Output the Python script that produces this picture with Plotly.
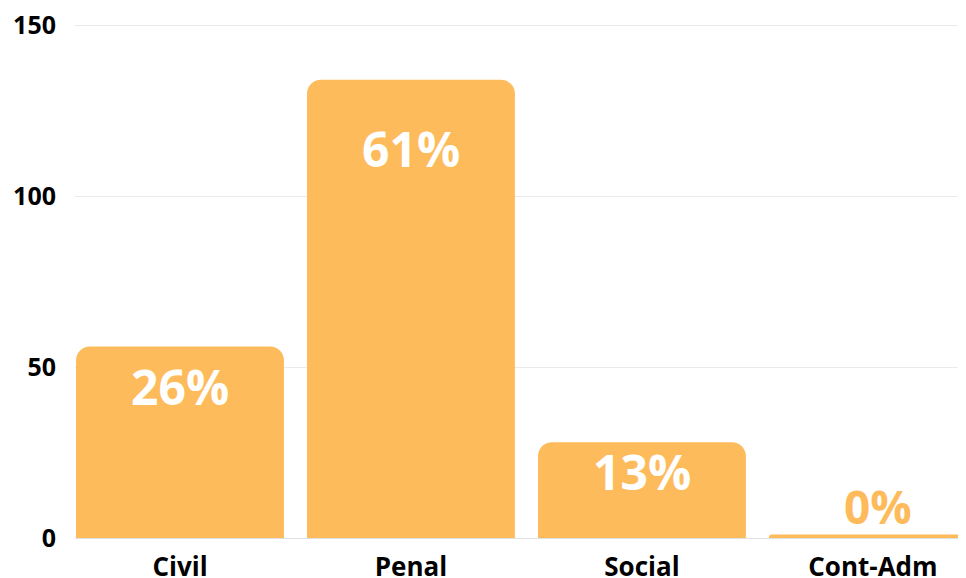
import plotly.graph_objects as go

categories = ["Civil", "Penal", "Social", "Cont-Adm"]
values = [56, 134, 28, 1]
y_ticks = [0, 50, 100, 150]

total = sum(values)
pct = [f"{round(v / total * 100)}%" for v in values]

BAR = "#FEBB5B"
FONT = "Open Sans"

fig = go.Figure(go.Bar(
    x=categories, y=values, width=0.9,
    marker=dict(color=BAR, line=dict(width=0), cornerradius=14),
    hoverinfo="skip",
))

annotations = []
for c, v, p in zip(categories, values, pct):
    if v > 10:
        annotations.append(dict(x=c, y=0.89 * v - 5.5, text=p, showarrow=False,
                                yanchor="middle", xanchor="center",
                                font=dict(family=FONT, size=48, color="white", weight="bold")))
    else:
        annotations.append(dict(x=c, y=v, text=p, showarrow=False,
                                yanchor="bottom", xanchor="center", yshift=-4, xshift=5,
                                font=dict(family=FONT, size=46, color=BAR, weight="bold")))

fig.update_layout(
    width=958, height=570,
    margin=dict(l=67, r=0, t=16, b=40),
    paper_bgcolor="white", plot_bgcolor="white",
    showlegend=False,
    annotations=annotations,
    font=dict(family=FONT, color="black"),
    xaxis=dict(range=[-0.4545, 3.403], showgrid=False, showline=False, ticks="",
               tickfont=dict(family=FONT, size=26, color="black", weight="bold"),
               ticklabelstandoff=11, ticklabeloverflow="allow",
               fixedrange=True, automargin=False),
    yaxis=dict(range=[0, 150.3], tickvals=y_ticks, showgrid=True, gridcolor="#ebebeb",
               gridwidth=1, zeroline=True, zerolinecolor="#e0e0e0", zerolinewidth=1,
               showline=False, ticks="",
               tickfont=dict(family=FONT, size=25, color="black", weight="bold"),
               ticklabelstandoff=18, ticklabeloverflow="allow",
               fixedrange=True, automargin=False),
)

fig.write_html("out.html", config={"displayModeBar": False})
